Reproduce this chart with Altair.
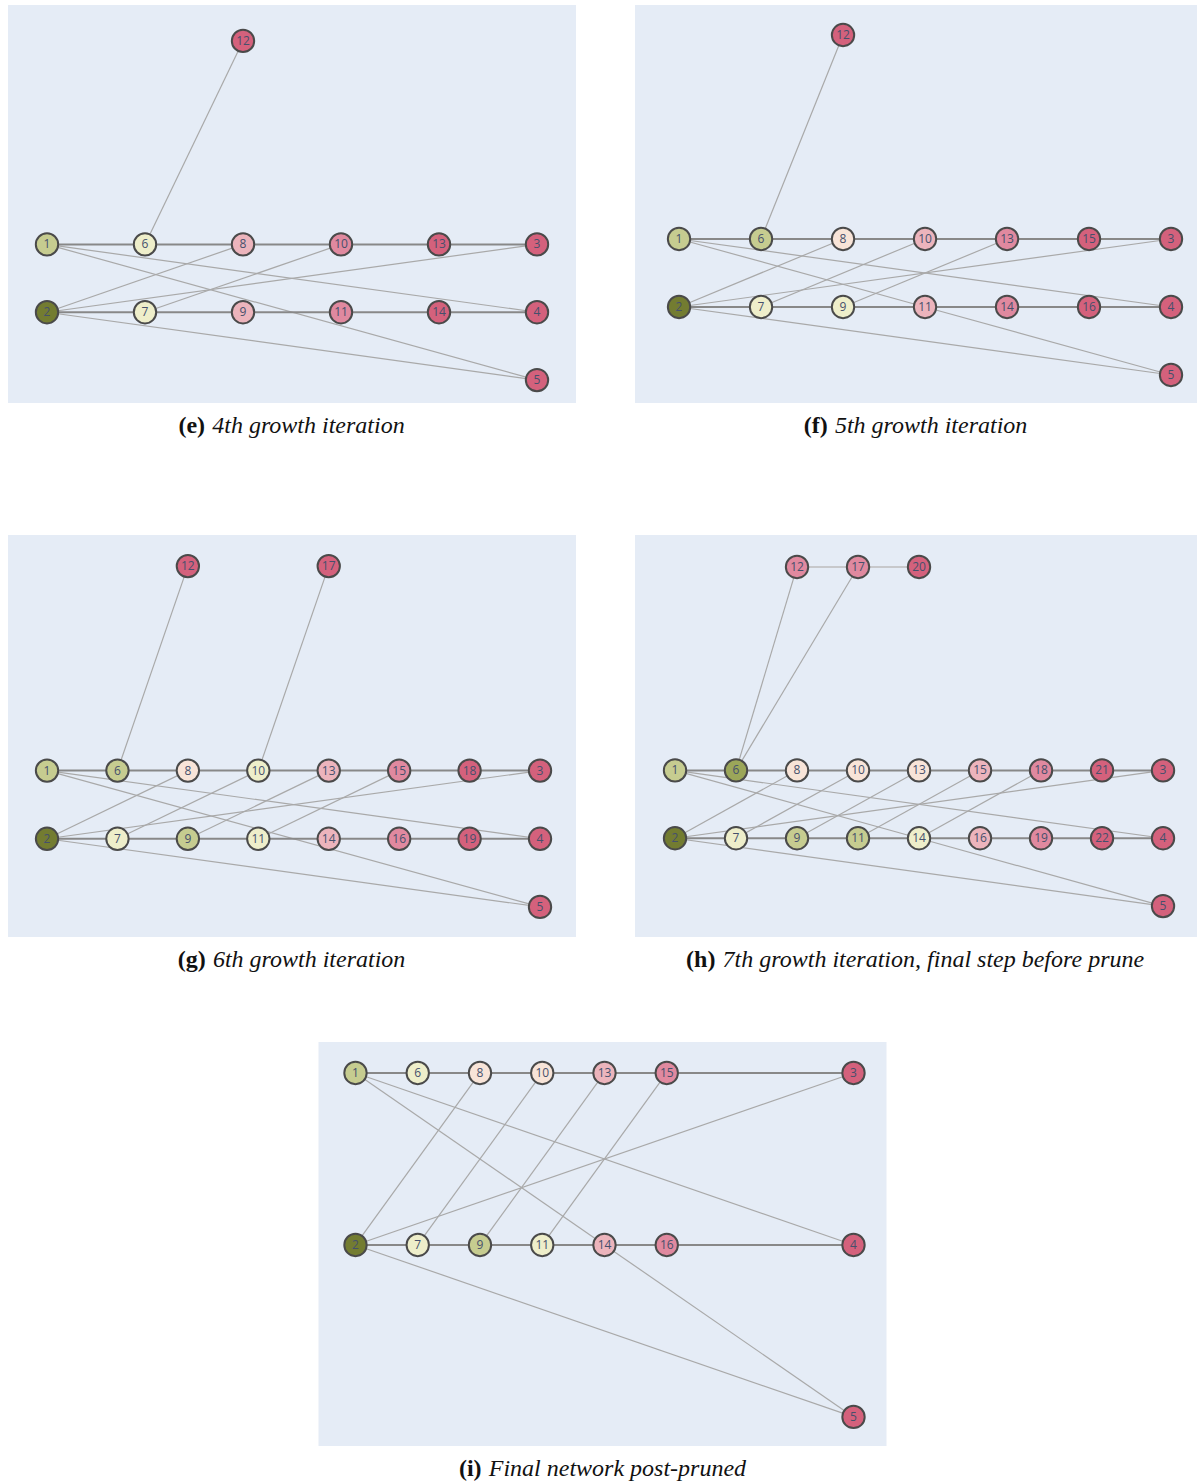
import altair as alt
import pandas as pd

# ---------------------------------------------------------------
# Network snapshots: nodes sit on a column / level grid.
# Row lists give the node ids of the upper and lower chains,
# left to right; extra nodes carry their own column and level.
# Shade index: 0 = darkest olive ... 7 = deepest rose.
# ---------------------------------------------------------------

# (e) 4th growth iteration
E_TOP = [1, 6, 8, 10, 13, 3]
E_BOTTOM = [2, 7, 9, 11, 14, 4]
E_EXTRA = [12, 5]
E_EXTRA_COL = [2, 5]
E_EXTRA_LEVEL = [3, -2]
E_SHADE = {1: 2, 2: 0, 6: 3, 7: 3, 8: 5, 9: 5, 10: 6, 11: 6,
           13: 7, 14: 7, 3: 7, 4: 7, 5: 7, 12: 7}
E_LINKS = [(6, 12), (1, 4), (1, 5), (2, 8), (2, 3), (2, 5), (7, 10)]
E_SOFT = []

# (f) 5th growth iteration
F_TOP = [1, 6, 8, 10, 13, 15, 3]
F_BOTTOM = [2, 7, 9, 11, 14, 16, 4]
F_EXTRA = [12, 5]
F_EXTRA_COL = [2, 6]
F_EXTRA_LEVEL = [3, -2]
F_SHADE = {1: 2, 6: 2, 2: 0, 7: 3, 9: 3, 8: 4, 10: 5, 11: 5, 13: 6,
           14: 6, 15: 7, 16: 7, 3: 7, 4: 7, 5: 7, 12: 7}
F_LINKS = [(6, 12), (1, 4), (1, 11), (11, 5), (2, 8), (2, 3), (2, 5),
           (7, 10), (9, 13)]
F_SOFT = []

# (g) 6th growth iteration
G_TOP = [1, 6, 8, 10, 13, 15, 18, 3]
G_BOTTOM = [2, 7, 9, 11, 14, 16, 19, 4]
G_EXTRA = [12, 17, 5]
G_EXTRA_COL = [2, 4, 7]
G_EXTRA_LEVEL = [3, 3, -2]
G_SHADE = {1: 2, 6: 2, 9: 2, 2: 0, 7: 3, 10: 3, 11: 3, 8: 4, 13: 5,
           14: 5, 15: 6, 16: 6, 18: 7, 19: 7, 3: 7, 4: 7, 5: 7, 12: 7, 17: 7}
G_LINKS = [(6, 12), (10, 17), (1, 4), (1, 5), (2, 8), (2, 3), (2, 5),
           (7, 10), (9, 13), (11, 15)]
G_SOFT = []

# (h) 7th growth iteration, final step before prune
H_TOP = [1, 6, 8, 10, 13, 15, 18, 21, 3]
H_BOTTOM = [2, 7, 9, 11, 14, 16, 19, 22, 4]
H_EXTRA = [12, 17, 20, 5]
H_EXTRA_COL = [2, 3, 4, 8]
H_EXTRA_LEVEL = [3, 3, 3, -2]
H_SHADE = {1: 2, 6: 1, 2: 0, 9: 2, 11: 2, 7: 3, 14: 3, 8: 4, 10: 4,
           13: 4, 15: 5, 16: 5, 18: 6, 19: 6, 21: 7, 22: 7, 3: 7, 4: 7,
           5: 7, 12: 6, 17: 6, 20: 7}
H_LINKS = [(6, 12), (6, 17), (1, 4), (1, 14), (14, 5), (2, 8), (7, 10),
           (9, 13), (11, 15), (14, 18), (2, 3), (2, 5)]
H_SOFT = [(12, 17), (17, 20)]

# (i) Final network post-pruned
I_TOP = [1, 6, 8, 10, 13, 15, 3]
I_TOP_COL = [0, 1, 2, 3, 4, 5, 8]
I_BOTTOM = [2, 7, 9, 11, 14, 16, 4]
I_BOTTOM_COL = [0, 1, 2, 3, 4, 5, 8]
I_EXTRA = [5]
I_EXTRA_COL = [8]
I_EXTRA_LEVEL = [-2]
I_SHADE = {1: 2, 2: 0, 9: 2, 6: 3, 7: 3, 11: 3, 8: 4, 10: 4, 13: 5,
           14: 5, 15: 6, 16: 6, 3: 7, 4: 7, 5: 7}
I_LINKS = [(1, 14), (1, 4), (2, 8), (7, 10), (9, 13), (11, 15), (2, 3),
           (2, 5), (14, 5)]
I_SOFT = []

# ---------------- styling ----------------
SHADES = ["#737c31", "#9ba659", "#c6cc90", "#eeeeca",
          "#f8e4d8", "#ecb4bc", "#e0899f", "#d4617c"]
PLOT_BG = "#e5ecf6"
EDGE_KINDS = ["link", "soft", "chain"]
EDGE_COLORS = ["#a9a9a9", "#bdbdbd", "#888888"]
EDGE_WIDTHS = [1.2, 2.0, 2.3]
NODE_SIZE = 500
CAPTION_FONT = "Liberation Serif"
CAPTION_SIZE = 24

# Times-metric advance widths (per 1000 em) for caption centring
ITALIC_W = {" ": 250, ",": 250, "-": 333, "F": 611, "a": 500, "b": 500,
            "c": 444, "d": 500, "e": 444, "f": 278, "g": 500, "h": 500,
            "i": 278, "k": 444, "l": 278, "m": 722, "n": 500, "o": 500,
            "p": 500, "r": 389, "s": 389, "t": 278, "u": 500, "v": 444,
            "w": 667}
BOLD_W = {"(": 333, ")": 333, "e": 444, "f": 333, "g": 500, "h": 556,
          "i": 278}


def text_width(s, table, size):
    return sum(table.get(ch, 500) for ch in s) * size / 1000.0


def panel(top, bottom, extra, extra_col, extra_level, shade, links, soft,
          x_dom, y_dom, width, height, tag, caption,
          top_col=None, bottom_col=None):
    top_col = top_col or list(range(len(top)))
    bottom_col = bottom_col or list(range(len(bottom)))
    pos = {}
    for n, c in zip(top, top_col):
        pos[n] = (c, 0)
    for n, c in zip(bottom, bottom_col):
        pos[n] = (c, -1)
    for n, c, lv in zip(extra, extra_col, extra_level):
        pos[n] = (c, lv)

    chain = list(zip(top[:-1], top[1:])) + list(zip(bottom[:-1], bottom[1:]))
    edge_rows = []
    for kind, pairs in (("link", links), ("soft", soft), ("chain", chain)):
        for a, b in pairs:
            edge_rows.append({"x": pos[a][0], "y": pos[a][1],
                              "x2": pos[b][0], "y2": pos[b][1], "kind": kind})
    edges = pd.DataFrame(edge_rows)
    nodes = pd.DataFrame([{"x": pos[n][0], "y": pos[n][1], "label": str(n),
                           "fill": SHADES[shade[n]]} for n in pos])

    xs = alt.Scale(domain=x_dom, nice=False, zero=False)
    ys = alt.Scale(domain=y_dom, nice=False, zero=False)

    edge_layer = alt.Chart(edges).mark_rule().encode(
        x=alt.X("x:Q", scale=xs, axis=None),
        y=alt.Y("y:Q", scale=ys, axis=None),
        x2="x2:Q", y2="y2:Q",
        color=alt.Color("kind:N", scale=alt.Scale(domain=EDGE_KINDS, range=EDGE_COLORS), legend=None),
        strokeWidth=alt.StrokeWidth("kind:N", scale=alt.Scale(domain=EDGE_KINDS, range=EDGE_WIDTHS), legend=None),
    )
    node_layer = alt.Chart(nodes).mark_circle(
        size=NODE_SIZE, opacity=1, stroke="#4a4a4a", strokeWidth=2
    ).encode(
        x=alt.X("x:Q", scale=xs, axis=None),
        y=alt.Y("y:Q", scale=ys, axis=None),
        fill=alt.Fill("fill:N", scale=None),
    )
    label_layer = alt.Chart(nodes).mark_text(
        font="Open Sans", fontSize=12, color="#46506c"
    ).encode(
        x=alt.X("x:Q", scale=xs, axis=None),
        y=alt.Y("y:Q", scale=ys, axis=None),
        text="label:N",
    )

    # caption: bold tag followed by italic text, centred under the panel
    wb = text_width(tag, BOLD_W, CAPTION_SIZE)
    gap = 0.3 * CAPTION_SIZE
    wi = text_width(caption, ITALIC_W, CAPTION_SIZE)
    left = width / 2 - (wb + gap + wi) / 2
    cap_y = height + 23
    tag_layer = alt.Chart(pd.DataFrame({"t": [tag]})).mark_text(
        font=CAPTION_FONT, fontSize=CAPTION_SIZE, fontWeight="bold",
        color="#111111", align="left", baseline="middle"
    ).encode(x=alt.value(left), y=alt.value(cap_y), text="t:N")
    cap_layer = alt.Chart(pd.DataFrame({"t": [caption]})).mark_text(
        font=CAPTION_FONT, fontSize=CAPTION_SIZE, fontStyle="italic",
        color="#111111", align="left", baseline="middle"
    ).encode(x=alt.value(left + wb + gap), y=alt.value(cap_y), text="t:N")

    return alt.layer(edge_layer, node_layer, label_layer, tag_layer,
                     cap_layer).properties(width=width, height=height)


pe = panel(E_TOP, E_BOTTOM, E_EXTRA, E_EXTRA_COL, E_EXTRA_LEVEL, E_SHADE,
           E_LINKS, E_SOFT, [-0.398, 5.398], [-2.338, 3.529], 568, 398,
           "(e)", "4th growth iteration")
pf = panel(F_TOP, F_BOTTOM, F_EXTRA, F_EXTRA_COL, F_EXTRA_LEVEL, F_SHADE,
           F_LINKS, F_SOFT, [-0.537, 6.317], [-2.412, 3.441], 562, 398,
           "(f)", "5th growth iteration")
pg = panel(G_TOP, G_BOTTOM, G_EXTRA, G_EXTRA_COL, G_EXTRA_LEVEL, G_SHADE,
           G_LINKS, G_SOFT, [-0.554, 7.511], [-2.441, 3.456], 568, 402,
           "(g)", "6th growth iteration")
ph = panel(H_TOP, H_BOTTOM, H_EXTRA, H_EXTRA_COL, H_EXTRA_LEVEL, H_SHADE,
           H_LINKS, H_SOFT, [-0.656, 8.557], [-2.456, 3.471], 562, 402,
           "(h)", "7th growth iteration, final step before prune")
pi = panel(I_TOP, I_BOTTOM, I_EXTRA, I_EXTRA_COL, I_EXTRA_LEVEL, I_SHADE,
           I_LINKS, I_SOFT, [-0.594, 8.530], [-2.169, 0.180], 568, 404,
           "(i)", "Final network post-pruned",
           top_col=I_TOP_COL, bottom_col=I_BOTTOM_COL)

row1 = alt.hconcat(pe, pf, spacing=59)
row2 = alt.hconcat(pg, ph, spacing=59)
upper = alt.vconcat(row1, row2, spacing=97)
chart = alt.vconcat(upper, pi, spacing=70, center=True).properties(
    padding={"left": 8, "top": 5, "right": 0, "bottom": 0},
    background="white",
).configure_view(fill=PLOT_BG, stroke=None)

chart.save("out.html", embed_options={"renderer": "svg", "actions": False})
